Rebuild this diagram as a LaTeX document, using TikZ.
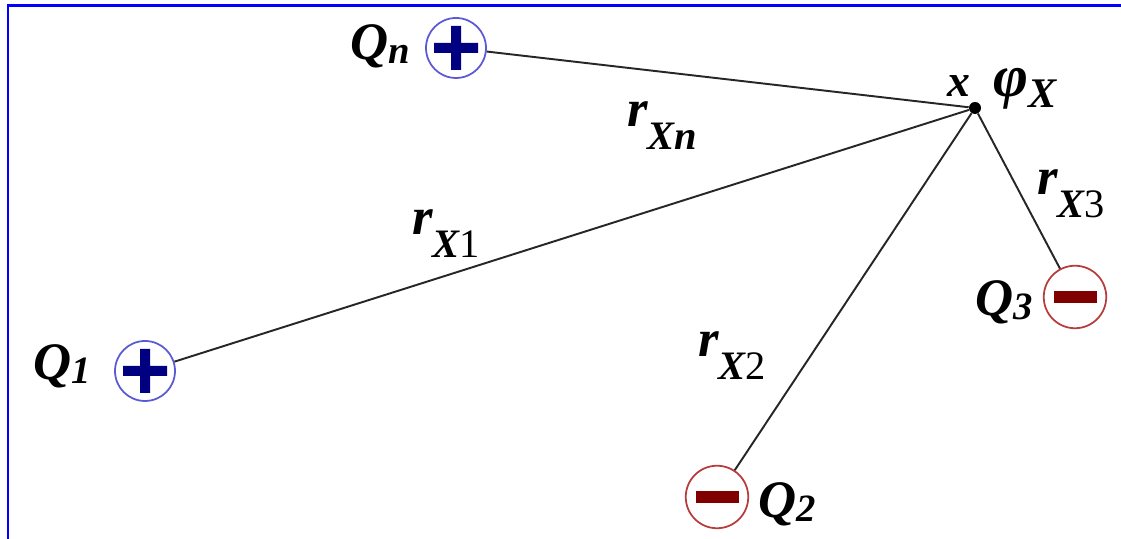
\documentclass[tikz,border=0pt]{standalone}
\usepackage{fontspec}
\setmainfont{Liberation Serif}
\definecolor{plusring}{RGB}{90,90,210}
\definecolor{plusdark}{RGB}{0,0,128}
\definecolor{minusring}{RGB}{185,60,60}
\definecolor{minusdark}{RGB}{128,0,0}
\definecolor{framecol}{RGB}{0,0,255}
\newcommand{\rsub}[1]{\raisebox{-13pt}{\fontsize{23}{25}\selectfont #1}}
\newcommand{\qsub}[1]{\raisebox{-2pt}{\fontsize{22}{24}\selectfont #1}}
\tikzset{
  wire/.style={line width=1.1pt, black!85},
  lbl/.style={font=\fontsize{30}{32}\selectfont\bfseries\itshape, inner sep=0pt, anchor=base west},
  dot/.style={circle, fill=black, minimum size=0.24cm, inner sep=0pt},
  pos charge/.style={circle, draw=plusring, line width=1pt, minimum size=1.2cm, inner sep=0pt,
    path picture={\fill[plusdark, shift={(path picture bounding box.center)}]
      (-0.44,-0.1) rectangle (0.44,0.1) (-0.1,-0.44) rectangle (0.1,0.44);}},
  neg charge/.style={circle, draw=minusring, line width=1pt, minimum size=1.25cm, inner sep=0pt,
    path picture={\fill[minusdark, shift={(path picture bounding box.center)}]
      (-0.43,-0.12) rectangle (0.43,0.12);}}
}
\begin{document}
\begin{tikzpicture}
\useasboundingbox (0,0) rectangle (22.42,10.78);
\draw[framecol, line width=1.6pt] (0.16,0) -- (0.16,10.67) -- (22.42,10.67);

\node[pos charge] (qn) at (9.12, 9.82) {};
\node[pos charge] (q1) at (2.9, 3.36) {};
\node[neg charge] (q2) at (14.34, 0.84) {};
\node[neg charge] (q3) at (21.5, 4.84) {};
\node[dot] (x) at (19.5, 8.62) {};

\draw[wire] (x) -- (qn);
\draw[wire] (x) -- (q1);
\draw[wire] (x) -- (q2);
\draw[wire] (x) -- (q3);

% charge names
\node[lbl] (qnname) at (7.0, 9.58) {Q\qsub{n}};
\node[lbl] (q1name) at (0.66, 3.18) {Q\qsub{1}};
\node[lbl] (q2name) at (15.16, 0.42) {Q\qsub{2}};
\node[lbl] (q3name) at (19.5, 4.46) {Q\qsub{3}};
\node[lbl, font=\fontsize{26}{28}\selectfont\bfseries\itshape] (xname) at (18.94, 8.84) {x};
\node[lbl, font=\fontsize{34}{36}\selectfont\bfseries\itshape] (phiname) at (19.86, 8.84) {φ\raisebox{-6pt}{\fontsize{24}{26}\selectfont X}};

% distances
\node[lbl] (rn) at (12.54, 8.24) {r\rsub{Xn}};
\node[lbl] (r1) at (8.24, 6.08) {r\rsub{X{\upshape\mdseries 1}}};
\node[lbl] (r2) at (13.96, 3.64) {r\rsub{X{\upshape\mdseries 2}}};
\node[lbl] (r3) at (20.74, 6.88) {r\rsub{X{\upshape\mdseries 3}}};
\end{tikzpicture}
\end{document}
